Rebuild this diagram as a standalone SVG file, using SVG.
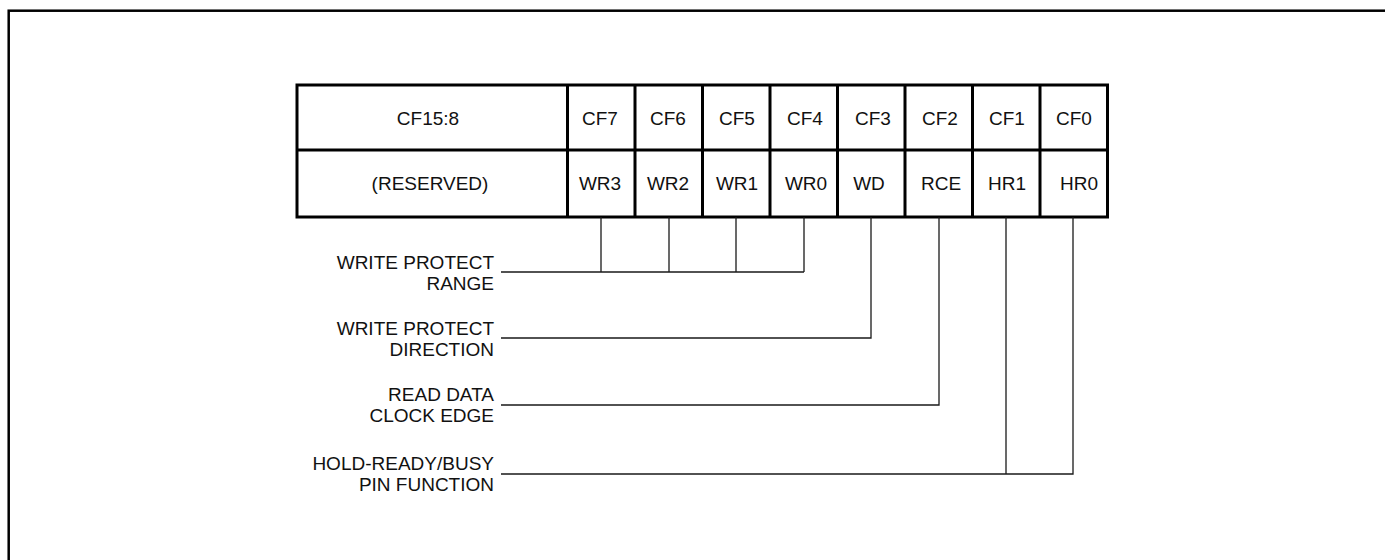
<svg xmlns="http://www.w3.org/2000/svg" width="1385" height="560" viewBox="0 0 1385 560">
<style>
.frame{fill:none;stroke:#000;stroke-width:2.5}
.tb{fill:#fff;stroke:#000;stroke-width:3}
.grid{stroke:#000;stroke-width:3;fill:none}
.conn{stroke:#1a1a1a;stroke-width:1.3;fill:none}
text{font-family:"Liberation Sans",Arial,sans-serif;font-size:19px;fill:#111}
.c{text-anchor:middle}
.r{text-anchor:end}
</style>
<rect class="frame" x="8.7" y="10.7" width="1420" height="600"/>
<g id="register">
<rect class="tb" x="297" y="85" width="810.5" height="132"/>
<path class="grid" d="M297 150H1107.5M567.5 85V217M635 85V217M702.5 85V217M770 85V217M837.5 85V217M905 85V217M972.5 85V217M1040 85V217"/>
</g>
<g id="row-cf">
<text class="c" x="428" y="125">CF15:8</text>
<text class="c" x="600" y="125">CF7</text>
<text class="c" x="668" y="125">CF6</text>
<text class="c" x="737" y="125">CF5</text>
<text class="c" x="805" y="125">CF4</text>
<text class="c" x="873" y="125">CF3</text>
<text class="c" x="940" y="125">CF2</text>
<text class="c" x="1007" y="125">CF1</text>
<text class="c" x="1074" y="125">CF0</text>
</g>
<g id="row-fn">
<text class="c" x="430" y="190">(RESERVED)</text>
<text class="c" x="600" y="190">WR3</text>
<text class="c" x="668" y="190">WR2</text>
<text class="c" x="737" y="190">WR1</text>
<text class="c" x="806" y="190">WR0</text>
<text class="c" x="869" y="190">WD</text>
<text class="c" x="941" y="190">RCE</text>
<text class="c" x="1007" y="190">HR1</text>
<text class="c" x="1079" y="190">HR0</text>
</g>
<g id="connectors">
<path class="conn" d="M601 217V272M669 217V272M736 217V272M804 217V272M501 272H804"/>
<path class="conn" d="M871 217V338H501"/>
<path class="conn" d="M939 217V405H501"/>
<path class="conn" d="M1006 217V474M1073 217V474H501"/>
</g>
<g id="label-wpr">
<text class="r" x="494" y="269">WRITE PROTECT</text>
<text class="r" x="494" y="290">RANGE</text>
</g>
<g id="label-wpd">
<text class="r" x="494" y="335">WRITE PROTECT</text>
<text class="r" x="494" y="356">DIRECTION</text>
</g>
<g id="label-rce">
<text class="r" x="494" y="401">READ DATA</text>
<text class="r" x="494" y="422">CLOCK EDGE</text>
</g>
<g id="label-hr">
<text class="r" x="494" y="470">HOLD-READY/BUSY</text>
<text class="r" x="494" y="491">PIN FUNCTION</text>
</g>
</svg>
